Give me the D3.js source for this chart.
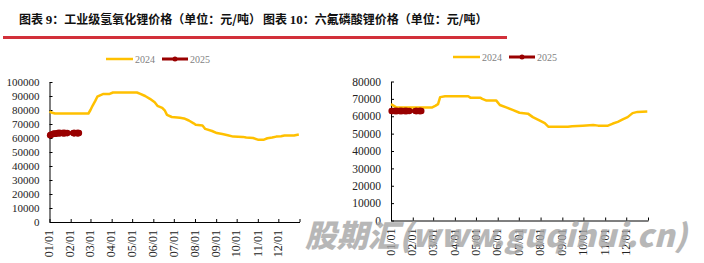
<!DOCTYPE html>
<html>
<head>
<meta charset="utf-8">
<script src="https://cdn.jsdelivr.net/npm/d3@7"></script>
<style>
  body { margin: 0; background: #fff; }
  svg { display: block; }
</style>
</head>
<body>
<div id="chart"></div>
<script>
// ---------- data ----------
const monthLabels = ["01/01","02/01","03/01","04/01","05/01","06/01","07/01","08/01","09/01","10/01","11/01","12/01"];
const seriesNames = ["2024", "2025"];

// 工业级氢氧化锂 (元/吨)
const lohDates2024 = ["01-01","01-05","01-09","02-27","03-01","03-04","03-08","03-11","03-15","03-20","03-29","04-03","05-08","05-13","05-20","05-27","06-03","06-07","06-14","06-18","06-21","06-28","07-10","07-16","07-23","07-30","08-02","08-12","08-16","08-26","09-02","09-10","09-18","09-26","10-10","10-15","10-25","11-01","11-10","11-15","11-22","11-28","12-05","12-10","12-24","12-31"];
const lohValues2024 = [79000,78000,77500,77500,80000,83000,86500,89500,90500,91500,91500,92500,92500,91500,90000,88000,85500,83000,81500,79500,76500,75000,74500,74000,72500,70500,69500,69000,66500,65000,63500,62800,62000,61000,60800,60300,60000,58800,58800,59800,60300,61000,61300,61800,61800,62500];
const lohDates2025 = ["01-02","01-03","01-06","01-07","01-08","01-09","01-10","01-13","01-14","01-15","01-16","01-17","01-20","01-21","01-22","01-23","01-24","01-27","02-05","02-06","02-07","02-10","02-11","02-12","02-13"];
const lohValues2025 = [62000,62300,62800,63000,63000,63000,63000,63500,63500,63500,63500,63500,63500,63500,63500,63500,63500,63500,63500,63500,63500,63500,63500,63500,63500];

// 六氟磷酸锂 (元/吨)
const lpfDates2024 = ["01-01","01-05","01-09","02-28","03-04","03-08","03-11","03-18","04-20","04-23","05-07","05-10","05-16","05-30","06-04","06-14","06-23","07-02","07-14","07-21","07-31","08-07","08-12","09-09","09-15","09-30","10-15","10-22","11-05","11-12","11-19","11-26","12-03","12-10","12-17","12-31"];
const lpfValues2024 = [67000,66000,65000,65000,66000,67000,71000,71500,71500,70700,70700,70000,69000,69000,66500,65000,63500,62000,61500,59500,57500,56000,54000,54000,54300,54600,55000,54600,54600,55800,56800,58200,59500,61800,62500,62700];
const lpfDates2025 = ["01-02","01-03","01-06","01-07","01-08","01-09","01-10","01-13","01-14","01-15","01-16","01-17","01-20","01-21","01-22","01-23","01-24","01-27","02-05","02-06","02-07","02-10","02-11","02-12","02-13"];
const lpfValues2025 = [63000,63000,63000,63000,63000,63000,63000,63000,63000,63000,63000,63000,63000,63000,63000,63000,63000,63000,63000,63000,63000,63000,63000,63000,63000];

// ---------- setup ----------
const W = 704, H = 263;
const color2024 = "#FFC000";
const color2025 = "#990000";
const serif = "'Liberation Serif','Times New Roman',serif";

const svg = d3.select("#chart").append("svg")
  .attr("width", W).attr("height", H);

// red rule under the titles
svg.append("line")
  .attr("x1", 3).attr("x2", 507).attr("y1", 37.5).attr("y2", 37.5)
  .attr("stroke", "#D2303A").attr("stroke-width", 3);

const parseMD = d => new Date(2024, +d.slice(0, 2) - 1, +d.slice(3, 5));
const toPoints = (dates, values) => dates.map((d, i) => ({ date: parseMD(d), value: values[i] }));

function drawPanel(p) {
  // title: CJK part in Noto Sans CJK, digits in serif
  const t = svg.append("text")
    .attr("x", p.titleX).attr("y", 24)
    .style("font-family", "'Noto Sans CJK SC',sans-serif")
    .style("font-weight", "bold").style("font-size", "12px").style("fill", "#111");
  t.append("tspan").text("图表 ");
  t.append("tspan").style("font-family", serif).style("font-size", "13px").text(p.titleNum);
  t.append("tspan").text(p.title);

  const x = d3.scaleTime()
    .domain([new Date(2024, 0, 1), new Date(2025, 0, 1)])
    .range([p.left, p.right]);
  const y = d3.scaleLinear().domain([0, p.max]).range([p.bottom, p.top]);

  const g = svg.append("g");

  // y axis
  const yAxis = g.append("g")
    .attr("transform", `translate(${p.left},0)`)
    .call(d3.axisLeft(y).tickValues(d3.range(0, p.max + 1, 10000))
      .tickSizeInner(-3).tickSizeOuter(0).tickPadding(10).tickFormat(d3.format("d")));
  yAxis.selectAll("text")
    .style("font-family", serif).style("font-size", p.yFont + "px").style("fill", "#222");

  // x axis
  const tickDates = d3.range(12).map(m => new Date(2024, m, 1)).concat([new Date(2025, 0, 1)]);
  const xAxis = g.append("g")
    .attr("transform", `translate(0,${p.bottom})`)
    .call(d3.axisBottom(x).tickValues(tickDates)
      .tickSizeInner(-3).tickSizeOuter(0)
      .tickFormat((d, i) => monthLabels[i] || ""));
  xAxis.selectAll("text")
    .attr("transform", "rotate(-90)")
    .attr("x", -8).attr("y", -1).attr("dy", "0.35em")
    .style("text-anchor", "end")
    .style("font-family", serif).style("font-size", "12px").style("fill", "#222");

  g.selectAll(".domain, .tick line").attr("stroke", "#000").attr("stroke-width", 1);

  const line = d3.line().x(d => x(d.date)).y(d => y(d.value));

  // 2024
  g.append("path")
    .datum(toPoints(p.dates2024, p.values2024))
    .attr("d", line)
    .attr("fill", "none").attr("stroke", color2024).attr("stroke-width", 2.5)
    .attr("stroke-linejoin", "round");

  // 2025
  const pts25 = toPoints(p.dates2025, p.values2025);
  g.append("path")
    .datum(pts25)
    .attr("d", line)
    .attr("fill", "none").attr("stroke", color2025).attr("stroke-width", 3.5);
  g.selectAll(".m25").data(pts25).enter().append("circle")
    .attr("cx", d => x(d.date)).attr("cy", d => y(d.value)).attr("r", 3.3)
    .attr("fill", color2025);

  // legend
  const lg = svg.append("g").attr("transform", `translate(${p.legendX},${p.legendY})`);
  lg.append("line").attr("x1", 0).attr("x2", 27).attr("y1", 0).attr("y2", 0)
    .attr("stroke", color2024).attr("stroke-width", 2.5);
  lg.append("text").attr("x", 29).attr("y", 3.5).text(seriesNames[0]);
  lg.append("line").attr("x1", 56).attr("x2", 82).attr("y1", 0).attr("y2", 0)
    .attr("stroke", color2025).attr("stroke-width", 3);
  lg.append("circle").attr("cx", 69).attr("cy", 0).attr("r", 2.5).attr("fill", color2025);
  lg.append("text").attr("x", 84).attr("y", 3.5).text(seriesNames[1]);
  lg.selectAll("text").style("font-family", serif).style("font-size", "10px").style("fill", "#7f7f7f");
}

drawPanel({
  titleNum: "9", title: "：工业级氢氧化锂价格（单位：元/吨）", titleX: 19,
  left: 49.5, right: 299.5, top: 82, bottom: 222, max: 100000, yFont: 11,
  legendX: 106, legendY: 59,
  dates2024: lohDates2024, values2024: lohValues2024,
  dates2025: lohDates2025, values2025: lohValues2025
});

drawPanel({
  titleNum: "10", title: "：六氟磷酸锂价格（单位：元/吨）", titleX: 263,
  left: 391, right: 648, top: 81.5, bottom: 220.5, max: 80000, yFont: 11.5,
  legendX: 453, legendY: 57,
  dates2024: lpfDates2024, values2024: lpfValues2024,
  dates2025: lpfDates2025, values2025: lpfValues2025
});

// watermark
svg.append("text")
  .attr("x", 305).attr("y", 247)
  .attr("textLength", 382).attr("lengthAdjust", "spacingAndGlyphs")
  .style("font-family", "'Noto Sans CJK SC','DejaVu Sans',sans-serif")
  .style("font-weight", "900").style("font-style", "italic")
  .style("font-size", "31px").style("fill", "#a6a6a6").style("opacity", 0.8)
  .text("股期汇(www.guqihui.cn)");
</script>
</body>
</html>
